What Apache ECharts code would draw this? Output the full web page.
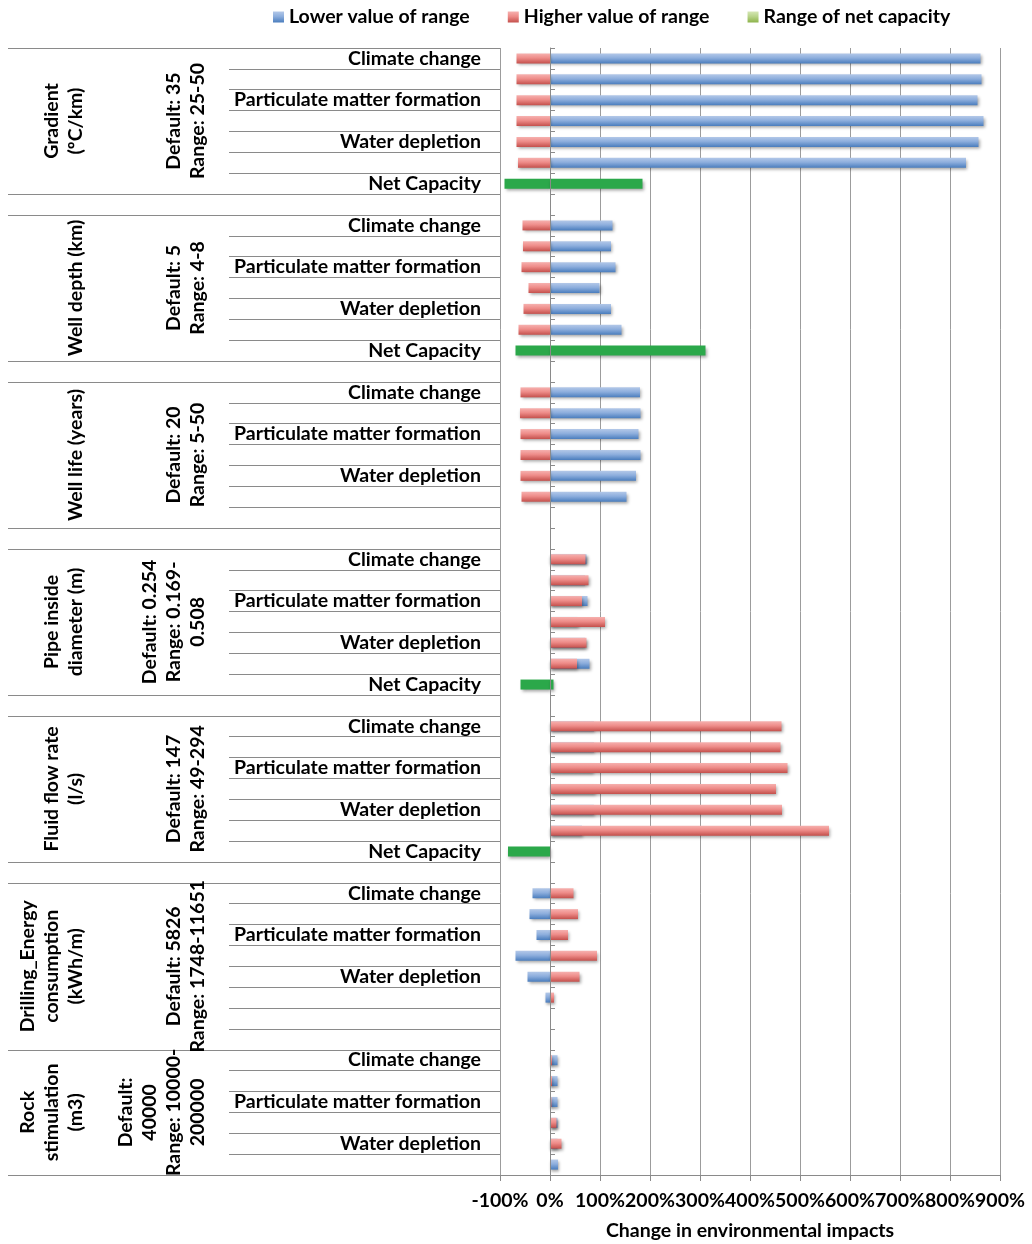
<!DOCTYPE html>
<html>
<head>
<meta charset="utf-8">
<script src="https://cdn.jsdelivr.net/npm/echarts@6/dist/echarts.min.js"></script>
<style>
  html, body { margin: 0; padding: 0; background: #fff; }
  #chart { width: 1032px; height: 1244px; }
</style>
</head>
<body>
<div id="chart"></div>
<script>
// ---------------- DATA ----------------
const impactLabels = ['Climate change', '', 'Particulate matter formation', '', 'Water depletion', ''];
const netCapacityLabel = 'Net Capacity';

const groupNames = [
  'Gradient\n(ºC/km)',
  'Well depth (km)',
  'Well life (years)',
  'Pipe inside\ndiameter (m)',
  'Fluid flow rate\n(l/s)',
  'Drilling_Energy\nconsumption\n(kWh/m)',
  'Rock\nstimulation\n(m3)'
];
const groupSettings = [
  'Default: 35\nRange: 25-50',
  'Default: 5\nRange: 4-8',
  'Default: 20\nRange: 5-50',
  'Default: 0.254\nRange: 0.169-\n0.508',
  'Default: 147\nRange: 49-294',
  'Default: 5826\nRange: 1748-11651',
  'Default:\n40000\nRange: 10000-\n200000'
];

// Lower value of range (%), one value per impact row
const lowerGradient = [861, 863, 855, 867, 857, 832];
const lowerDepth    = [125, 122, 131, 99, 122, 143];
const lowerLife     = [180, 181, 177, 181, 172, 153];
const lowerPipe     = [73, 70, 75, 55, 70, 79];
const lowerFlow     = [88, 88, 86, 90, 88, 64];
const lowerDrilling = [-35, -41, -27, -69, -45, -9];
const lowerRock     = [15, 15, 15, 15, 15, 16];

// Higher value of range (%)
const higherGradient = [-67, -67, -67, -67, -67, -64];
const higherDepth    = [-55, -54, -57, -43, -53, -63];
const higherLife     = [-59, -60, -59, -59, -59, -57];
const higherPipe     = [71, 77, 64, 110, 73, 54];
const higherFlow     = [463, 461, 475, 452, 464, 558];
const higherDrilling = [47, 56, 36, 94, 59, 8];
const higherRock     = [4, 4, 3, 13, 23, 0];

// Range of net capacity (%), per group (null = none)
const netLow  = [-91, -69, null, -59, -84, null, null];
const netHigh = [185, 311, null, 7, 0, null, null];

// Row structure of the category axis
const hasNetRow     = [true, true, true, true, true, true, false];
const trailingBlank = [false, false, false, false, false, true, false];
const spacerAfter   = [true, true, true, true, true, false, false];

// ---------------- BUILD ----------------
const lowerGroups = [lowerGradient, lowerDepth, lowerLife, lowerPipe, lowerFlow, lowerDrilling, lowerRock];
const higherGroups = [higherGradient, higherDepth, higherLife, higherPipe, higherFlow, higherDrilling, higherRock];

const rowLabels = [], lowerData = [], higherData = [], netLowData = [], netHighData = [];
const bigTicks = new Set();
const groupCenters = [];
function pushRow(label, lo, hi, nl, nh) {
  rowLabels.push(label); lowerData.push(lo); higherData.push(hi);
  netLowData.push(nl); netHighData.push(nh);
}
groupNames.forEach((g, gi) => {
  const start = rowLabels.length;
  bigTicks.add(start);
  for (let k = 0; k < impactLabels.length; k++) {
    pushRow(impactLabels[k], lowerGroups[gi][k], higherGroups[gi][k], null, null);
  }
  if (hasNetRow[gi]) {
    pushRow(netLow[gi] != null ? netCapacityLabel : '', null, null, netLow[gi], netHigh[gi]);
  }
  if (trailingBlank[gi]) pushRow('', null, null, null, null);
  const end = rowLabels.length;
  bigTicks.add(end);
  groupCenters.push((start + end) / 2);
  if (spacerAfter[gi]) { pushRow('', null, null, null, null); bigTicks.add(rowLabels.length); }
});
const nRows = rowLabels.length;

// ---------------- STYLE ----------------
const FONT = 'Lato';
const FW = 'bold';
const FS = 19.5;
const grad = (c1, c2, c3) => ({
  type: 'linear', x: 0, y: 0, x2: 0, y2: 1,
  colorStops: [{ offset: 0, color: c1 }, { offset: 0.45, color: c2 }, { offset: 1, color: c3 }]
});
const blueGrad = grad('#B3C8E8', '#8DAEDD', '#4A7DBD');
const redGrad = grad('#F6B1AF', '#EE8C89', '#C4504C');
const legendGreen = grad('#D5E6B5', '#B9D48A', '#8DB34A');
const netGreen = '#2BA84A';
const shadow = { shadowBlur: 3, shadowColor: 'rgba(0,0,0,0.35)', shadowOffsetX: 1, shadowOffsetY: 2 };
const lineGray = '#8A8A8A';
const gridGray = '#9C9C9C';
const txt = { fontFamily: FONT, fontWeight: FW, fontSize: FS, color: '#000' };

const chart = echarts.init(document.getElementById('chart'), null, { renderer: 'canvas' });

const groupLabelData = groupCenters.map((c, i) => [-100, c, i]);

chart.setOption({
  animation: false,
  backgroundColor: '#fff',
  textStyle: { fontFamily: FONT },
  legend: {
    top: 2, left: 268,
    icon: 'rect', itemWidth: 11, itemHeight: 11, itemGap: 38,
    textStyle: txt,
    data: [
      { name: 'Lower value of range', itemStyle: { color: blueGrad } },
      { name: 'Higher value of range', itemStyle: { color: redGrad } },
      { name: 'Range of net capacity', itemStyle: { color: legendGreen } }
    ]
  },
  grid: { left: 500, right: 32, top: 48, bottom: 69, containLabel: false, outerBoundsMode: 'none' },
  xAxis: {
    type: 'value', min: -100, max: 900, interval: 100,
    axisLine: { show: true, onZero: false, lineStyle: { color: lineGray, width: 1 } },
    axisTick: { show: true, length: 6, lineStyle: { color: lineGray } },
    splitLine: { show: true, lineStyle: { color: gridGray, width: 1 } },
    axisLabel: Object.assign({ formatter: '{value}%', margin: 16 }, txt),
    name: 'Change in environmental impacts', nameLocation: 'middle', nameGap: 46,
    nameTextStyle: txt
  },
  yAxis: [
    { // leaf labels with row lines
      type: 'category', inverse: true, data: rowLabels, position: 'left',
      axisLine: { show: false, onZero: false },
      axisTick: { show: true, interval: 0, length: 271, lineStyle: { color: lineGray } },
      axisLabel: Object.assign({ show: true, interval: 0, margin: 19 }, txt),
      splitLine: { show: false }
    },
    { // group separator lines
      type: 'category', inverse: true, data: rowLabels, position: 'left',
      axisLine: { show: false, onZero: false },
      axisTick: { show: true, interval: (idx) => bigTicks.has(idx), length: 492, lineStyle: { color: lineGray } },
      axisLabel: { show: false },
      splitLine: { show: false }
    },
    { // axis at 0%
      type: 'category', inverse: true, data: rowLabels, z: 5,
      axisLine: { show: true, onZero: true, lineStyle: { color: lineGray, width: 1 } },
      axisTick: { show: true, interval: 0, length: 5, lineStyle: { color: lineGray } },
      axisLabel: { show: false },
      splitLine: { show: false }
    },
    { // helper axis for group labels
      type: 'value', inverse: true, min: 0, max: nRows, show: false,
      axisLine: { onZero: false }
    }
  ],
  series: [
    {
      name: 'Lower value of range', type: 'bar', yAxisIndex: 0, data: lowerData,
      barWidth: 10, barGap: '-100%',
      itemStyle: Object.assign({ color: blueGrad }, shadow)
    },
    {
      name: 'Higher value of range', type: 'bar', yAxisIndex: 0, data: higherData,
      barWidth: 10, barGap: '-100%',
      itemStyle: Object.assign({ color: redGrad }, shadow)
    },
    {
      name: 'Range of net capacity', type: 'bar', yAxisIndex: 0, data: netLowData,
      barWidth: 10, barGap: '-100%',
      itemStyle: Object.assign({ color: netGreen }, shadow)
    },
    {
      name: 'Range of net capacity', type: 'bar', yAxisIndex: 0, data: netHighData,
      barWidth: 10, barGap: '-100%',
      itemStyle: Object.assign({ color: netGreen }, shadow)
    },
    {
      type: 'custom', yAxisIndex: 3, data: groupLabelData, silent: true, clip: false,
      encode: { x: 0, y: 1 },
      renderItem: function (params, api) {
        const gi = api.value(2);
        const p = api.coord([api.value(0), api.value(1)]);
        const font = FW + ' ' + FS + 'px ' + FONT;
        return {
          type: 'group',
          children: [
            {
              type: 'text', x: p[0] - 412, y: p[1], rotation: Math.PI / 2,
              style: { text: groupNames[gi], font: font, fill: '#000', align: 'center', verticalAlign: 'bottom', lineHeight: 24 }
            },
            {
              type: 'text', x: p[0] - 290, y: p[1], rotation: Math.PI / 2,
              style: { text: groupSettings[gi], font: font, fill: '#000', align: 'center', verticalAlign: 'bottom', lineHeight: 24 }
            }
          ]
        };
      }
    }
  ]
});
</script>
</body>
</html>
